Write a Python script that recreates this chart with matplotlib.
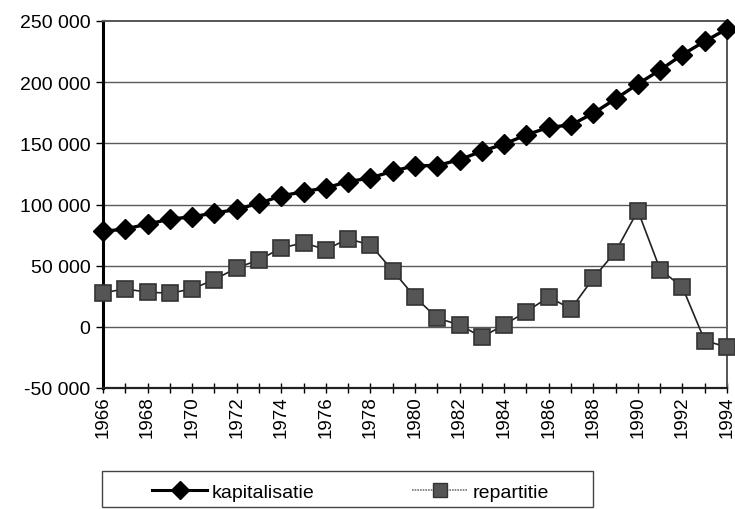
import matplotlib
matplotlib.use("Agg")
import matplotlib.pyplot as plt
from matplotlib.ticker import FuncFormatter, MultipleLocator
from matplotlib.lines import Line2D
from matplotlib.patches import Rectangle

plt.rcParams['font.family'] = ['Liberation Sans', 'DejaVu Sans']

years = list(range(1966, 1995))
kapitalisatie = [78000, 80000, 84000, 88000, 90000, 93000, 96000, 101000,
                 107000, 110500, 113600, 118700, 121700, 127200, 131800,
                 131800, 136700, 143500, 149500, 156900, 163100, 165000,
                 174600, 186300, 198500, 210000, 222500, 233400, 243500]
repartitie = [27800, 31000, 28300, 27500, 31000, 38600, 48200, 54700,
              64500, 68600, 63200, 71900, 67000, 46000, 24300, 7100,
              1600, -8400, 1600, 12500, 24300, 14700, 39800, 61500,
              95000, 46800, 32400, -11200, -16600]
series_names = ["kapitalisatie", "repartitie"]
y_ticks = [-50000, 0, 50000, 100000, 150000, 200000, 250000]

fig = plt.figure(figsize=(7.35, 5.1), dpi=100)
ax = fig.add_axes([103 / 735, 1 - 389 / 510, 624 / 735, 367 / 510])

for y in y_ticks[1:-1]:
    ax.axhline(y, color='#5a5a5a', lw=1.0, zorder=1)

ax.plot(years, kapitalisatie, color='black', lw=2.4, marker='D', ms=10,
        mfc='black', mec='black', zorder=4, clip_on=False)
ax.plot(years, repartitie, color='#222222', lw=1.2, marker='s', ms=11,
        mfc='#555555', mec='#333333', mew=1.2, zorder=3, clip_on=False)

ax.set_xlim(1966, 1994)
ax.set_ylim(-50000, 250000)
ax.set_yticks(y_ticks)
ax.yaxis.set_major_formatter(FuncFormatter(lambda v, p: f"{int(v):,}".replace(",", " ")))
ax.xaxis.set_major_locator(MultipleLocator(2))
ax.xaxis.set_minor_locator(MultipleLocator(1))
ax.tick_params(axis='x', which='both', direction='inout', length=7, width=1,
               labelrotation=90, labelsize=13.5, pad=2)
ax.tick_params(axis='y', direction='out', length=5, width=1, labelsize=14, pad=4)

ax.spines['left'].set_linewidth(2.2)
ax.spines['left'].set_color('black')
ax.spines['bottom'].set_linewidth(1.6)
ax.spines['bottom'].set_color('#222222')
for side in ('top', 'right'):
    ax.spines[side].set_linewidth(1.4)
    ax.spines[side].set_color('#555555')
    ax.spines[side].set_linestyle((0, (1, 1)))

# legend box along the bottom edge
fig.patches.append(Rectangle((102 / 735, 2 / 510), 491 / 735, 36 / 510,
                             transform=fig.transFigure, fill=False,
                             edgecolor='#444444', lw=1.0))
handles = [
    Line2D([], [], color='black', lw=2.2, marker='D', ms=9, mfc='black', mec='black'),
    Line2D([], [], color='#777777', lw=1.2, linestyle=(0, (1, 0.6)), marker='s', ms=10,
           mfc='#555555', mec='#333333'),
]
fig.legend(handles, series_names, loc='center left',
           bbox_to_anchor=(152 / 735, 1 - 493 / 510), ncol=2, frameon=False,
           fontsize=14, handlelength=2.83, handletextpad=0.26, columnspacing=5.0,
           borderpad=0, borderaxespad=0)

fig.savefig("out.png", dpi=100)
